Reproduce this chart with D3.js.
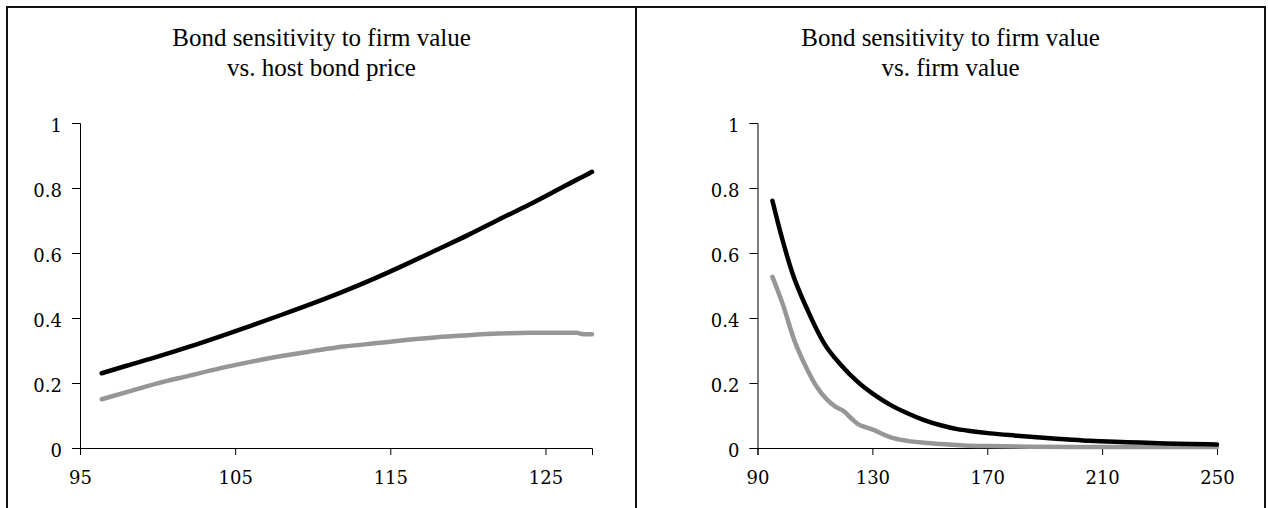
<!DOCTYPE html>
<html><head><meta charset="utf-8">
<script src="https://cdn.jsdelivr.net/npm/d3@7"></script>
<style>body{margin:0;background:#fff}svg{display:block}</style>
</head><body><svg id="c" width="1268" height="508"></svg>
<script>
// ---- data ----
const leftTitle = ["Bond sensitivity to firm value", "vs. host bond price"];
const rightTitle = ["Bond sensitivity to firm value", "vs. firm value"];
const yTicks = [0, 0.2, 0.4, 0.6, 0.8, 1];
const leftXTicks = [95, 105, 115, 125];
const rightXTicks = [90, 130, 170, 210, 250];

const leftX = [96.4, 98, 100, 102, 104, 106, 108, 110, 112, 114, 116, 118, 120, 122, 124, 126, 127, 127.3, 128];
const leftBlack = [0.23, 0.253, 0.281, 0.311, 0.343, 0.376, 0.41, 0.445, 0.482, 0.522, 0.565, 0.61, 0.655, 0.703, 0.75, 0.80, 0.825, 0.832, 0.85];
const leftGray = [0.15, 0.172, 0.199, 0.222, 0.245, 0.265, 0.283, 0.298, 0.312, 0.322, 0.332, 0.341, 0.347, 0.352, 0.355, 0.355, 0.355, 0.351, 0.35];

const rightBlackX = [95.2, 98.1, 102.2, 107.4, 113.2, 119, 124.8, 130.6, 136.4, 142.2, 148, 153.8, 159.6, 165.3, 171, 180, 188.4, 197, 205.8, 214.5, 223.2, 232, 240.6, 250];
const rightBlack = [0.761, 0.66, 0.537, 0.425, 0.322, 0.256, 0.204, 0.164, 0.132, 0.107, 0.086, 0.07, 0.058, 0.051, 0.045, 0.038, 0.032, 0.027, 0.022, 0.019, 0.017, 0.014, 0.012, 0.011];
const rightGrayX = [95.2, 98.7, 102.8, 107.4, 110.5, 114.3, 117, 120.2, 122.8, 125.4, 128, 130.6, 133.5, 136.4, 142.2, 148, 153.7, 162, 171, 185, 200, 250];
const rightGray = [0.527, 0.445, 0.332, 0.24, 0.19, 0.148, 0.128, 0.112, 0.09, 0.071, 0.063, 0.055, 0.043, 0.033, 0.022, 0.016, 0.012, 0.008, 0.006, 0.004, 0.003, 0.003];

// ---- drawing ----
const svg = d3.select("#c");
const serif = "'Liberation Serif', 'Times New Roman', serif";
const tickFont = "'DejaVu Serif', serif";

function panel(cfg) {
  const g = svg.append("g");
  g.append("rect").attr("x", cfg.fx).attr("y", 7).attr("width", cfg.fw).attr("height", 520)
    .attr("fill", "none").attr("stroke", "#111").attr("stroke-width", 2);
  cfg.title.forEach((t, i) => {
    g.append("text").attr("x", cfg.fx + cfg.fw / 2).attr("y", 46 + i * 30)
      .attr("text-anchor", "middle").attr("font-family", serif).attr("font-size", 25)
      .attr("fill", "#000").text(t);
  });
  const x = d3.scaleLinear().domain(cfg.xDomain).range(cfg.xRange);
  const y = d3.scaleLinear().domain([0, 1]).range([448, 123]);

  const yAxis = d3.axisLeft(y).tickValues(yTicks).tickSize(8).tickPadding(10)
    .tickFormat(d => d3.format("")(d));
  const xAxis = d3.axisBottom(x).tickValues(cfg.xTicks).tickSize(7).tickPadding(16)
    .tickFormat(d3.format("d"));

  const ya = g.append("g").attr("transform", `translate(${cfg.xRange[0]},0)`).call(yAxis);
  const xa = g.append("g").attr("transform", `translate(0,448)`).call(xAxis);
  [ya, xa].forEach(a => {
    a.select(".domain").attr("stroke", "#000").attr("stroke-width", 1);
    a.selectAll(".tick line").attr("stroke", "#000");
    a.selectAll("text").attr("font-family", tickFont).attr("font-size", 18).attr("fill", "#000");
  });
  ya.selectAll("text").attr("dy", "0.45em");

  const line = d3.line().x(d => x(d[0])).y(d => y(d[1])).curve(d3.curveMonotoneX);
  const grayPts = cfg.gx.map((v, i) => [v, cfg.gray[i]]);
  const blackPts = cfg.bx.map((v, i) => [v, cfg.black[i]]);
  g.append("path").attr("d", line(grayPts)).attr("fill", "none")
    .attr("stroke", "#969696").attr("stroke-width", 4.5).attr("stroke-linecap", "round");
  g.append("path").attr("d", line(blackPts)).attr("fill", "none")
    .attr("stroke", "#000").attr("stroke-width", 4.5).attr("stroke-linecap", "round");
}

panel({ fx: 7, fw: 629, title: leftTitle, xDomain: [95, 128], xRange: [80, 592], xTicks: leftXTicks,
  gx: leftX, bx: leftX, black: leftBlack, gray: leftGray });
panel({ fx: 636, fw: 629, title: rightTitle, xDomain: [90, 250], xRange: [757.5, 1217], xTicks: rightXTicks,
  gx: rightGrayX, bx: rightBlackX, black: rightBlack, gray: rightGray });
</script></body></html>
